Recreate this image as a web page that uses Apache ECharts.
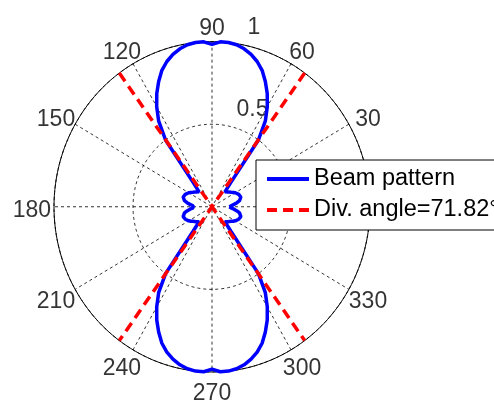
<!DOCTYPE html>
<html><head><meta charset="utf-8">
<script src="https://cdn.jsdelivr.net/npm/echarts@6/dist/echarts.min.js"></script>
<style>html,body{margin:0;padding:0;background:#fff}#c{width:494px;height:405px}</style>
</head><body><div id="c"></div>
<script>
// ---- data ----
const beamAngles = [
  0,3,6,9,12,15,18,21,24,27,30,33,36,39,42,45,48,51,54,57,60,63,66,69,72,75,78,81,84,87,
  90,93,96,99,102,105,108,111,114,117,120,123,126,129,132,135,138,141,144,147,150,153,156,159,162,165,168,171,174,177,
  180,183,186,189,192,195,198,201,204,207,210,213,216,219,222,225,228,231,234,237,240,243,246,249,252,255,258,261,264,267,
  270,273,276,279,282,285,288,291,294,297,300,303,306,309,312,315,318,321,324,327,330,333,336,339,342,345,348,351,354,357
];
const beamValues = [
  0.11,0.12,0.14,0.16,0.178,0.188,0.192,0.19,0.185,0.178,0.17,0.16,0.15,0.142,0.135,0.128,0.122,0.19,0.5,0.62,0.70,0.77,0.83,0.885,0.925,0.955,0.978,0.993,1.0,1.0,
  0.983,1.0,1.0,0.993,0.978,0.955,0.925,0.885,0.83,0.77,0.70,0.62,0.5,0.19,0.122,0.128,0.135,0.142,0.15,0.16,0.17,0.178,0.185,0.19,0.192,0.188,0.178,0.16,0.14,0.12,
  0.11,0.12,0.14,0.16,0.178,0.188,0.192,0.19,0.185,0.178,0.17,0.16,0.15,0.142,0.135,0.128,0.122,0.19,0.5,0.62,0.70,0.77,0.83,0.885,0.925,0.955,0.978,0.993,1.0,1.0,
  0.983,1.0,1.0,0.993,0.978,0.955,0.925,0.885,0.83,0.77,0.70,0.62,0.5,0.19,0.122,0.128,0.135,0.142,0.15,0.16,0.17,0.178,0.185,0.19,0.192,0.188,0.178,0.16,0.14,0.12
];
const divAngle = 71.82;
const angleTickValues = [0,30,60,90,120,150,180,210,240,270,300,330];
const angleTickLabels = ['0','30','60','90','120','150','180','210','240','270','300','330'];
const radiusTickValues = [0.5, 1];
const radiusTickLabels = ['0.5', '1'];
const seriesNames = ['Beam pattern', 'Div. angle=71.82\u00b0'];

// ---- layout (MATLAB polar axes, slightly elliptical on screen) ----
const cx = 212, cy = 209, Rx = 158, Ry = 167, ext = 1.2;
const labelRX = 1.14, labelRY = 1.105;
const FONT = "'Liberation Sans', Arial, Helvetica, sans-serif";
const d2r = Math.PI / 180;
const xy = (r, deg) => [r * Math.cos(deg * d2r), r * Math.sin(deg * d2r)];

function ring(r) {
  const pts = [];
  for (let a = 0; a <= 360; a += 1) pts.push(xy(r, a));
  return pts;
}
const beamData = beamAngles.map((a, i) => xy(beamValues[i], a));
beamData.push(xy(beamValues[0], beamAngles[0] + 360));

const half = divAngle / 2;
const divA = 90 - half, divB = 90 + half;

const gridDash = { color: '#000', width: 0.8, type: [3, 3] };
const series = [];
series.push({ type: 'line', data: ring(1), showSymbol: false, silent: true, z: 1,
  lineStyle: { color: '#000', width: 1 } });
radiusTickValues.forEach(v => series.push({ type: 'line', data: ring(v), showSymbol: false, silent: true, z: 1,
  lineStyle: gridDash }));
[0, 30, 60, 90, 120, 150].forEach(a => series.push({ type: 'line', data: [xy(1, a), xy(1, a + 180)],
  showSymbol: false, silent: true, z: 1, lineStyle: gridDash }));
series.push({ type: 'scatter', symbolSize: 0, silent: true, z: 3,
  data: angleTickValues.map((a, i) => {
    const p = xy(1, a);
    return { name: angleTickLabels[i], value: [p[0] * labelRX, p[1] * labelRY] };
  }),
  label: { show: true, position: [0, 0], offset: [0, 4], align: 'center', verticalAlign: 'middle',
    formatter: p => p.name, color: '#000', fontFamily: FONT, fontSize: 23 } });
series.push({ type: 'scatter', symbolSize: 0, silent: true, z: 3,
  data: radiusTickValues.map((v, i) => ({ name: radiusTickLabels[i], value: xy(v + 0.025, 82) })),
  label: { show: true, position: [13, 0], align: 'left', verticalAlign: 'bottom',
    formatter: p => p.name, color: '#000', fontFamily: FONT, fontSize: 23, lineHeight: 23 } });
series.push({ name: seriesNames[0], type: 'line', data: beamData, showSymbol: false, symbol: 'none', z: 5,
  lineStyle: { color: '#0000ff', width: 3.5 }, itemStyle: { color: '#0000ff' } });
[divA, divB].forEach(a => series.push({ name: seriesNames[1], type: 'line', data: [xy(1, a), xy(1, a + 180)],
  showSymbol: false, symbol: 'none', z: 6,
  lineStyle: { color: '#ff0000', width: 3.5, type: [10, 6] }, itemStyle: { color: '#ff0000' } }));

const chart = echarts.init(document.getElementById('c'), null, { renderer: 'canvas' });
chart.setOption({
  animation: false,
  backgroundColor: '#fff',
  grid: { left: cx - ext * Rx, width: 2 * ext * Rx, top: cy - ext * Ry, height: 2 * ext * Ry, containLabel: false },
  xAxis: { type: 'value', min: -ext, max: ext, show: false },
  yAxis: { type: 'value', min: -ext, max: ext, show: false },
  legend: {
    data: seriesNames, orient: 'vertical', left: 256, top: 160,
    backgroundColor: '#fff', borderColor: '#000', borderWidth: 1, borderRadius: 0,
    padding: [6, 9, 7, 9], itemWidth: 42, itemHeight: 14, itemGap: 5,
    itemStyle: { opacity: 0 },
    lineStyle: { width: 4 },
    textStyle: { color: '#000', fontFamily: FONT, fontSize: 23.5, lineHeight: 26 },
    selectedMode: false, z: 10
  },
  series: series
});
</script></body></html>
